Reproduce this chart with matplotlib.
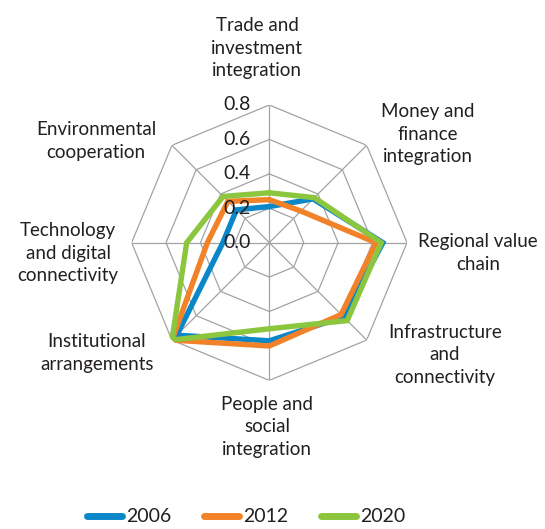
import numpy as np
import matplotlib
matplotlib.use("Agg")
import matplotlib.pyplot as plt
import matplotlib.transforms as mtransforms

plt.rcParams['font.family'] = ['Lato', 'DejaVu Sans']

# categories, clockwise from the top
categories = ['Trade and\ninvestment\nintegration',
              'Money and\nfinance\nintegration',
              'Regional value\nchain',
              'Infrastructure\nand\nconnectivity',
              'People and\nsocial\nintegration',
              'Institutional\narrangements',
              'Technology\nand digital\nconnectivity',
              'Environmental\ncooperation']

years = ['2006', '2012', '2020']
v2006 = [0.21, 0.36, 0.66, 0.61, 0.57, 0.76, 0.27, 0.27]
v2012 = [0.25, 0.26, 0.62, 0.59, 0.60, 0.80, 0.36, 0.34]
v2020 = [0.29, 0.37, 0.65, 0.64, 0.50, 0.80, 0.48, 0.38]
ticks = [0.0, 0.2, 0.4, 0.6, 0.8]

colors = ['#0A87C8', '#F28228', '#8CC63F']
txt_col = '#231F20'
grid_col = '#A3A3A3'

W, H = 545, 529
fig = plt.figure(figsize=(W / 100, H / 100), dpi=100)

# polar axes placed so the plot centre and outer ring match the reference
cx, cy, rad = 269.3, 242.7, 137.7
ax = fig.add_axes([(cx - rad) / W, (H - cy - rad) / H, 2 * rad / W, 2 * rad / H],
                  projection='polar')
ax.set_theta_zero_location('N')
ax.set_theta_direction(-1)
ax.set_ylim(0, 0.8)
ax.grid(False)
ax.spines['polar'].set_visible(False)
ax.set_xticks([])
ax.set_yticks([])
ax.patch.set_alpha(0)

n = len(categories)
theta = np.linspace(0, 2 * np.pi, n, endpoint=False)
theta_closed = np.append(theta, theta[0])

# octagonal grid
for t in ticks[1:]:
    ax.plot(theta_closed, [t] * (n + 1), color=grid_col, lw=0.9, zorder=1)
for th in theta:
    ax.plot([th, th], [0, ticks[-1]], color=grid_col, lw=0.9, zorder=1)

# data series
for vals, col, lab in zip([v2006, v2012, v2020], colors, years):
    ax.plot(theta_closed, vals + vals[:1], color=col, lw=3.9, label=lab,
            solid_joinstyle='miter', solid_capstyle='round', zorder=3)

# radial tick labels, left of the vertical axis
off = mtransforms.offset_copy(ax.transData, fig=fig, x=-19, y=0, units='dots')
for t in ticks:
    ax.text(0, t, f'{t:.1f}', transform=off, ha='right', va='center',
            fontsize=14, color=txt_col, zorder=4)

# category labels (pixel centres)
label_pos = [(257, 48), (428, 134), (478, 253), (445, 355),
             (267, 427), (97, 353), (68, 253), (96, 141)]
for lab, (px, py) in zip(categories, label_pos):
    fig.text(px / W, 1 - py / H, lab, ha='center', va='center', fontsize=13.5,
             color=txt_col, linespacing=1.4)

leg = fig.legend(loc='center', bbox_to_anchor=(246 / W, 1 - 517 / H), ncol=3,
                 frameon=False, fontsize=14, handlelength=1.8, handletextpad=0.2,
                 columnspacing=1.7, labelcolor=txt_col, borderpad=0.1)
for h in leg.get_lines():
    h.set_linewidth(5)
    h.set_solid_capstyle('round')

fig.savefig('out.png', dpi=100)
